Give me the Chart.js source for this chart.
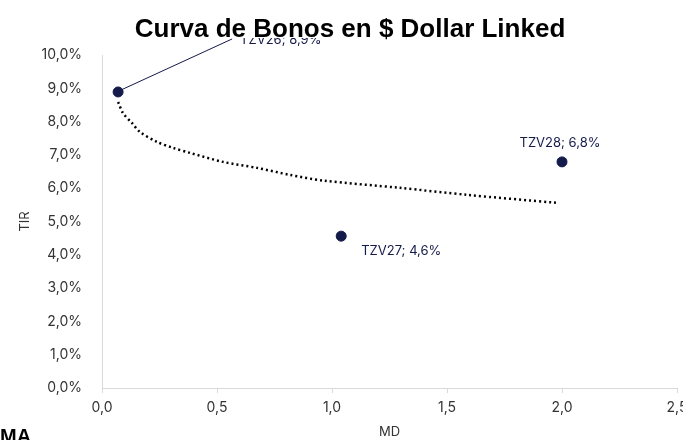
<!DOCTYPE html>
<html><head><meta charset="utf-8">
<script src="https://cdn.jsdelivr.net/npm/chart.js@4.4.0/dist/chart.umd.min.js"></script>
<style>
html,body{margin:0;padding:0;overflow:hidden;background:#fff}
#wrap{width:700px;height:440px;position:relative}
</style>
</head><body>
<div id="wrap"><canvas id="c"></canvas></div>
<script>
const chartTitle = 'Curva de Bonos en $ Dollar Linked';
const bondNames = ['TZV26', 'TZV27', 'TZV28'];
const bondMD = [0.07, 1.04, 2.00];
const bondTIR = [8.89, 4.56, 6.79];
const trendMD = [0.07, 0.091, 0.13, 0.165, 0.239, 0.309, 0.383, 0.526, 0.674, 0.817, 0.961, 1.296, 1.587, 1.978];
const trendTIR = [8.59, 8.26, 7.96, 7.69, 7.39, 7.21, 7.06, 6.79, 6.61, 6.40, 6.23, 6.01, 5.80, 5.56];
const xTicks = [0, 0.5, 1, 1.5, 2, 2.5];
const yTicks = [0, 1, 2, 3, 4, 5, 6, 7, 8, 9, 10];
const xTitle = 'MD';
const yTitle = 'TIR';
const cornerText = 'MA';

const NAVY = '#141a4a';
const fmt = v => v.toFixed(1).replace('.', ',');

const overlay = {
  id: 'overlay',
  afterDraw(chart) {
    const ctx = chart.ctx;
    const meta = chart.getDatasetMeta(1);
    ctx.save();
    ctx.font = '13px Inter';
    ctx.fillStyle = NAVY;
    ctx.strokeStyle = NAVY;
    ctx.textBaseline = 'middle';
    meta.data.forEach((pt, i) => {
      const txt = bondNames[i] + '; ' + fmt(bondTIR[i]) + '%';
      const x = pt.x, y = pt.y;
      if (i === 0) {
        ctx.save();
        ctx.beginPath();
        ctx.rect(0, 38, chart.width, chart.height);
        ctx.clip();
        ctx.lineWidth = 1;
        ctx.beginPath();
        ctx.moveTo(x + 3, y - 2);
        ctx.lineTo(x + 114, y - 53);
        ctx.stroke();
        ctx.textAlign = 'left';
        ctx.fillText(txt, x + 122, y - 52);
        ctx.restore();
      } else if (i === 1) {
        ctx.textAlign = 'left';
        ctx.fillText(txt, x + 20, y + 15);
      } else {
        ctx.textAlign = 'center';
        ctx.fillText(txt, x - 2, y - 19);
      }
    });
    ctx.fillStyle = '#000';
    ctx.textAlign = 'center';
    ctx.textBaseline = 'alphabetic';
    ctx.font = 'bold 26px "Liberation Sans"';
    ctx.fillText(chartTitle, 350, 37);
    ctx.textAlign = 'left';
    ctx.font = 'bold 20px "Liberation Sans"';
    ctx.fillText(cornerText, 0, 443);
    ctx.restore();
  }
};

Chart.defaults.font.family = 'Inter';
Chart.defaults.color = '#333333';

new Chart(document.getElementById('c'), {
  type: 'scatter',
  data: {
    datasets: [
      {
        label: 'Tendencia',
        data: trendMD.map((x, i) => ({x, y: trendTIR[i]})),
        showLine: true,
        borderColor: '#000',
        borderWidth: 2.5,
        borderDash: [2, 3],
        pointRadius: 0,
        tension: 0.3,
        fill: false
      },
      {
        label: 'Bonos',
        data: bondMD.map((x, i) => ({x, y: bondTIR[i]})),
        backgroundColor: NAVY,
        borderColor: NAVY,
        pointRadius: 5,
        pointHoverRadius: 5
      }
    ]
  },
  options: {
    responsive: true,
    maintainAspectRatio: false,
    animation: false,
    layout: {padding: {left: 0, right: 23, top: 55, bottom: 0}},
    plugins: {legend: {display: false}, tooltip: {enabled: false}, title: {display: false}},
    scales: {
      x: {
        type: 'linear',
        min: 0, max: 2.5,
        afterFit: s => { s.height = 52; },
        afterBuildTicks: s => { s.ticks = xTicks.map(v => ({value: v})); },
        grid: {display: true, drawOnChartArea: false, drawTicks: true, tickLength: 5, color: '#d9d9d9'},
        border: {display: true, color: '#d9d9d9', width: 1},
        ticks: {font: {size: 14}, color: '#333333', padding: 6, maxRotation: 0, callback: v => fmt(v)},
        title: {display: true, text: xTitle, font: {size: 13}, color: '#333333', padding: {top: 0, bottom: 0}}
      },
      y: {
        type: 'linear',
        min: 0, max: 10,
        afterFit: s => { s.width = 102; },
        afterBuildTicks: s => { s.ticks = yTicks.map(v => ({value: v})); },
        grid: {display: false, drawTicks: false},
        border: {display: true, color: '#d9d9d9', width: 1},
        ticks: {font: {size: 14}, color: '#333333', padding: 20, callback: v => fmt(v) + '%'},
        title: {display: true, text: yTitle, font: {size: 13}, color: '#333333', padding: {top: 17, bottom: 0}}
      }
    }
  },
  plugins: [overlay]
});
</script>
</body></html>
